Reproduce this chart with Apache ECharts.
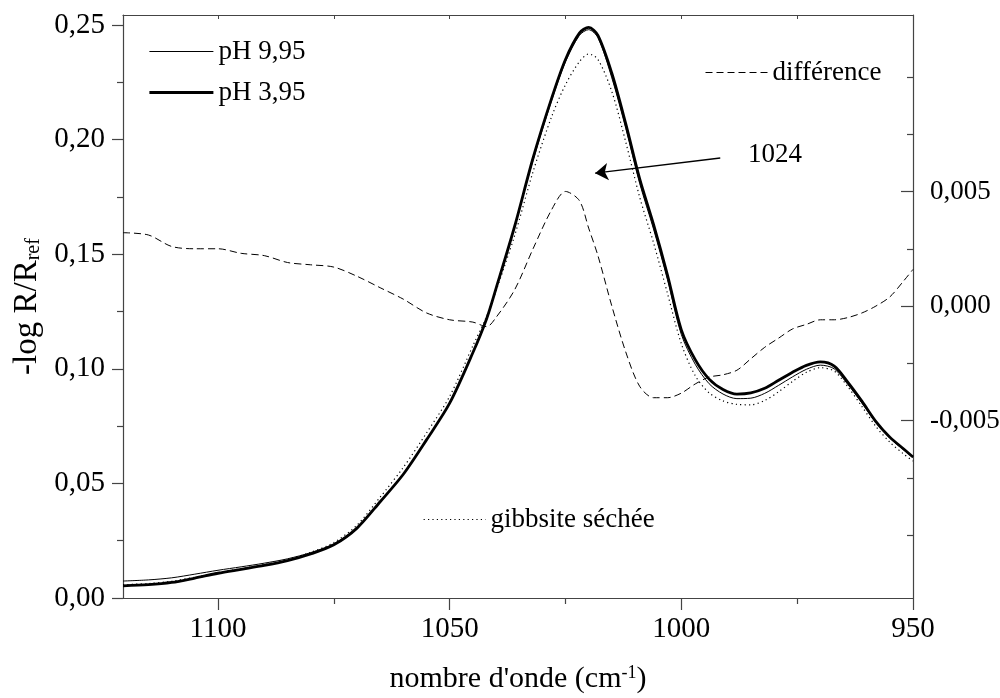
<!DOCTYPE html>
<html>
<head>
<meta charset="utf-8">
<script src="https://cdn.jsdelivr.net/npm/echarts@6/dist/echarts.min.js"></script>
<style>
html, body { margin: 0; padding: 0; background: #fff; }
#chart { width: 1000px; height: 698px; }
</style>
</head>
<body>
<div id="chart"></div>
<script>
// nombres d'onde (cm-1)
var wavenumber = [1120.5, 1115, 1110, 1105, 1100, 1095, 1090, 1085, 1080, 1075, 1070, 1065,
    1060, 1055, 1050, 1045, 1042, 1040, 1036, 1032, 1028, 1025, 1022, 1020, 1018, 1015, 1012,
    1009, 1006, 1003, 1000, 997, 994, 991, 988, 985, 982, 979, 976, 973, 970, 967, 964, 961,
    958, 955, 952, 950];

var ph995 = [0.0074, 0.0079, 0.0088, 0.0104, 0.0121, 0.0136, 0.0152, 0.0171, 0.0198, 0.0236, 0.0306, 0.042,
    0.054, 0.069, 0.085, 0.107, 0.122, 0.135, 0.162, 0.191, 0.217, 0.234, 0.2455, 0.248, 0.2445, 0.227, 0.205,
    0.181, 0.161, 0.139, 0.115, 0.102, 0.0935, 0.089, 0.0870, 0.0872, 0.0893, 0.0928, 0.0965, 0.0998, 0.1016, 0.1000, 0.0930, 0.0850,
    0.0765, 0.0697, 0.0646, 0.0612];

var ph395 = [0.0053, 0.0058, 0.0068, 0.0087, 0.0108, 0.0125, 0.0142, 0.0163, 0.0192, 0.0232, 0.0305, 0.042,
    0.054, 0.069, 0.085, 0.107, 0.122, 0.135, 0.162, 0.192, 0.218, 0.235, 0.2465, 0.249, 0.2455, 0.229, 0.207,
    0.183, 0.163, 0.141, 0.117, 0.104, 0.0955, 0.091, 0.089, 0.0895, 0.0915, 0.095, 0.0985, 0.1015, 0.1030, 0.1012, 0.0940, 0.0858,
    0.0770, 0.0702, 0.0650, 0.0615];

var gibbsite = [0.0058, 0.0063, 0.0073, 0.0091, 0.0111, 0.0128, 0.0146, 0.0168, 0.0199, 0.0242, 0.0318, 0.044,
    0.057, 0.072, 0.088, 0.110, 0.123, 0.134, 0.158, 0.186, 0.210, 0.224, 0.234, 0.2374, 0.235, 0.221, 0.199,
    0.175, 0.155, 0.133, 0.111, 0.097, 0.0895, 0.0860, 0.0845, 0.0843, 0.0862, 0.0900, 0.0945, 0.0985, 0.1005, 0.0990, 0.0920, 0.0835,
    0.0748, 0.0680, 0.0628, 0.0598];

// axe de droite
var difference = [0.0032, 0.0031, 0.0026, 0.0025, 0.0025, 0.0023, 0.0022, 0.0019, 0.0018, 0.0017, 0.0013, 0.0008,
    0.0003, -0.0003, -0.0006, -0.0007, -0.0009, -0.0005, 0.0007, 0.0025, 0.0042, 0.0050, 0.0046, 0.0034, 0.0022, 0.0000, -0.0020,
    -0.0035, -0.0040, -0.0040, -0.0038, -0.0034, -0.0031, -0.0030, -0.0028, -0.0023, -0.0018, -0.0014, -0.0010, -0.0008, -0.0006, -0.0006, -0.0005, -0.0003,
    0.0000, 0.0004, 0.0011, 0.0016];

var xTicks = [950, 1000, 1050, 1100];
var xMinorTicks = [975, 1025, 1075];
var leftTicks = [0, 0.05, 0.10, 0.15, 0.20, 0.25];
var leftMinorTicks = [0.025, 0.075, 0.125, 0.175, 0.225];
var rightTicks = [-0.005, 0, 0.005];
var rightMinorTicks = [-0.01, -0.0075, -0.0025, 0.0025, 0.0075, 0.01];

var arrowFrom = [991.6, 0.192];
var arrowTo = [1018.6, 0.1854];

var FONT = 'Liberation Serif';
var AXIS_COLOR = '#444';
var TICK_FONT = 29;

function pairs(ys) {
    var out = [];
    for (var i = 0; i < wavenumber.length; i++) {
        out.push([wavenumber[i], ys[i]]);
    }
    return out;
}

function comma(v, d) {
    return v.toFixed(d).replace('.', ',');
}

var chart = echarts.init(document.getElementById('chart'), null, {renderer: 'canvas'});

var baseX = {
    type: 'value', inverse: true, min: 950, max: 1120.5,
    splitLine: {show: false}
};

var legendText = {fontSize: 27, fontFamily: FONT, color: '#000', lineHeight: 23};

var option = {
    animation: false,
    backgroundColor: '#fff',
    grid: {left: 123, right: 87, top: 15, bottom: 100, containLabel: false, outerBoundsMode: 'none'},
    legend: [
        {
            data: [
                {name: 'pH 9,95', lineStyle: {width: 1}},
                {name: 'pH 3,95', lineStyle: {width: 2.8}}
            ],
            orient: 'vertical', left: 143, top: 33,
            itemWidth: 64, itemHeight: 14, itemGap: 14, selectedMode: false,
            itemStyle: {opacity: 0},
            textStyle: legendText
        },
        {
            data: [{name: 'différence', lineStyle: {width: 1}}],
            left: 700, top: 54,
            itemWidth: 62, itemHeight: 14, selectedMode: false,
            itemStyle: {opacity: 0},
            textStyle: legendText
        },
        {
            data: [{name: 'gibbsite séchée', lineStyle: {width: 1.2}}],
            left: 418, top: 501,
            itemWidth: 62, itemHeight: 14, selectedMode: false,
            itemStyle: {opacity: 0},
            textStyle: legendText
        }
    ],
    xAxis: [
        Object.assign({}, baseX, {
            position: 'bottom',
            axisLine: {show: true, onZero: false, lineStyle: {color: AXIS_COLOR, width: 1.2}},
            axisTick: {show: true, length: 12, customValues: xTicks, lineStyle: {color: AXIS_COLOR, width: 1.2}},
            axisLabel: {
                customValues: xTicks, margin: 17, fontSize: TICK_FONT, fontFamily: FONT, color: '#000',
                formatter: function (v) { return String(v); }
            },
            name: '{a|nombre d\'onde (cm}{sup|-1}{a|)}',
            nameLocation: 'middle', nameGap: 66,
            nameTextStyle: {
                fontSize: 30, fontFamily: FONT, color: '#000',
                rich: {
                    a: {fontSize: 30, fontFamily: FONT, color: '#000', lineHeight: 30, verticalAlign: 'bottom'},
                    sup: {fontSize: 18, fontFamily: FONT, color: '#000', lineHeight: 18, verticalAlign: 'top', padding: [0, 0, 17, 0]}
                }
            }
        }),
        Object.assign({}, baseX, {
            position: 'bottom',
            axisLine: {show: false},
            axisTick: {show: true, length: 6, customValues: xMinorTicks, lineStyle: {color: AXIS_COLOR, width: 1.2}},
            axisLabel: {show: false}
        }),
        Object.assign({}, baseX, {
            position: 'top',
            axisLine: {show: true, onZero: false, lineStyle: {color: AXIS_COLOR, width: 1.2}},
            axisTick: {show: true, inside: true, length: 4, customValues: xTicks.concat(xMinorTicks), lineStyle: {color: AXIS_COLOR}},
            axisLabel: {show: false}
        })
    ],
    yAxis: [
        {
            type: 'value', position: 'left', min: 0, max: 0.2544,
            splitLine: {show: false},
            axisLine: {show: true, onZero: false, lineStyle: {color: AXIS_COLOR, width: 1.2}},
            axisTick: {show: true, length: 11, customValues: leftTicks, lineStyle: {color: AXIS_COLOR, width: 1.2}},
            axisLabel: {
                customValues: leftTicks, margin: 18, fontSize: TICK_FONT, fontFamily: FONT, color: '#000',
                formatter: function (v) { return comma(v, 2); }
            },
            name: '{a|-log R/R}{sub|ref}',
            nameLocation: 'middle', nameGap: 78, nameRotate: 90,
            nameTextStyle: {
                rich: {
                    a: {fontSize: 33, fontFamily: FONT, color: '#000', lineHeight: 33, verticalAlign: 'top'},
                    sub: {fontSize: 20, fontFamily: FONT, color: '#000', lineHeight: 20, verticalAlign: 'bottom', padding: [19, 0, 0, 0]}
                }
            }
        },
        {
            type: 'value', position: 'left', min: 0, max: 0.2544,
            splitLine: {show: false},
            axisLine: {show: false},
            axisTick: {show: true, length: 6, customValues: leftMinorTicks, lineStyle: {color: AXIS_COLOR, width: 1.2}},
            axisLabel: {show: false}
        },
        {
            type: 'value', position: 'right', min: -0.01274, max: 0.0127,
            splitLine: {show: false},
            axisLine: {show: true, onZero: false, lineStyle: {color: AXIS_COLOR, width: 1.2}},
            axisTick: {show: true, inside: true, length: 12, customValues: rightTicks, lineStyle: {color: AXIS_COLOR, width: 1.2}},
            axisLabel: {
                customValues: rightTicks, margin: 17, fontSize: 27, fontFamily: FONT, color: '#000',
                formatter: function (v) { return comma(v, 3); }
            }
        },
        {
            type: 'value', position: 'right', min: -0.01274, max: 0.0127,
            splitLine: {show: false},
            axisLine: {show: false},
            axisTick: {show: true, inside: true, length: 6, customValues: rightMinorTicks, lineStyle: {color: AXIS_COLOR, width: 1.2}},
            axisLabel: {show: false}
        }
    ],
    series: [
        {
            name: 'différence', type: 'line', yAxisIndex: 2, showSymbol: false, symbol: 'none', smooth: 0.3,
            lineStyle: {color: '#000', width: 1, type: [7, 4]},
            itemStyle: {color: '#000'},
            data: pairs(difference)
        },
        {
            name: 'gibbsite séchée', type: 'line', yAxisIndex: 0, showSymbol: false, symbol: 'none', smooth: 0.3,
            lineStyle: {color: '#000', width: 1.2, type: [1.2, 3.2]},
            itemStyle: {color: '#000'},
            data: pairs(gibbsite),
            markLine: {
                silent: true, animation: false,
                symbol: ['none', 'arrow'], symbolSize: 13,
                lineStyle: {color: '#000', width: 1.4, type: 'solid'},
                label: {show: true, position: 'start', formatter: '1024', distance: 28,
                    fontSize: 27, fontFamily: FONT, color: '#000'},
                data: [[{coord: arrowFrom}, {coord: arrowTo}]]
            }
        },
        {
            name: 'pH 9,95', type: 'line', yAxisIndex: 0, showSymbol: false, symbol: 'none', smooth: 0.3,
            lineStyle: {color: '#000', width: 1},
            itemStyle: {color: '#000'},
            data: pairs(ph995)
        },
        {
            name: 'pH 3,95', type: 'line', yAxisIndex: 0, showSymbol: false, symbol: 'none', smooth: 0.3,
            lineStyle: {color: '#000', width: 2.8},
            itemStyle: {color: '#000'},
            data: pairs(ph395)
        }
    ]
};

chart.setOption(option);
</script>
</body>
</html>
